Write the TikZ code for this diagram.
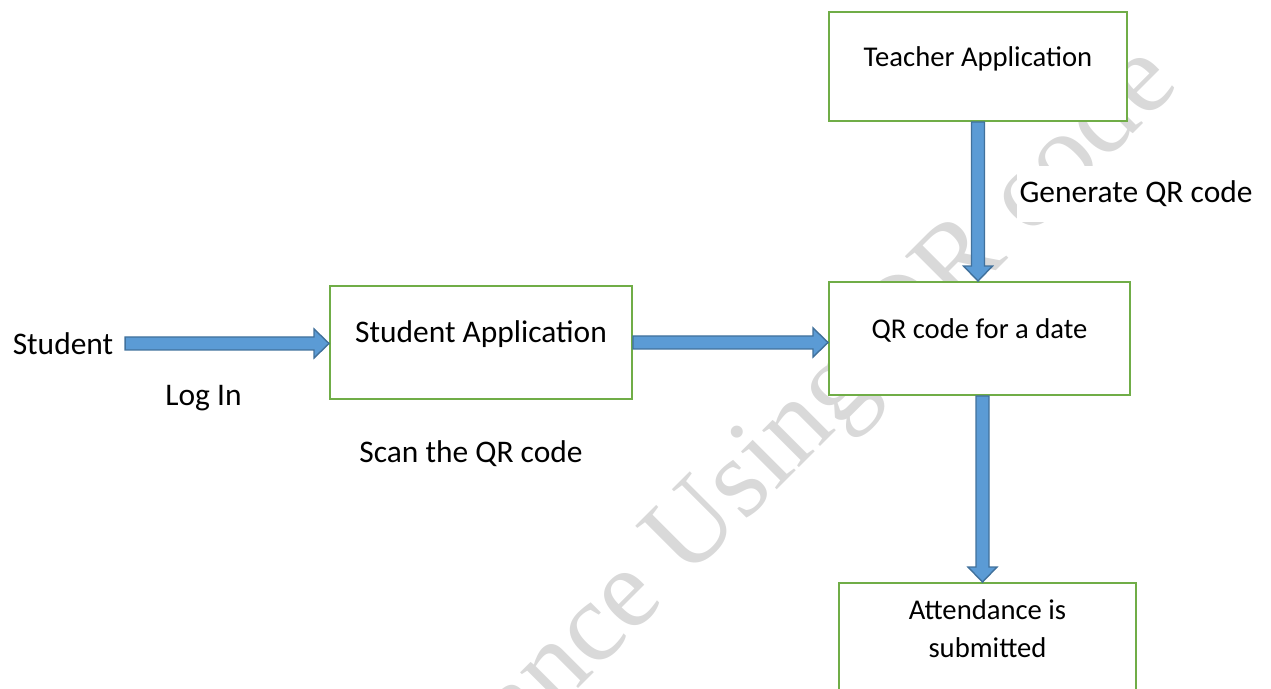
\documentclass[tikz,border=0pt]{standalone}
\usepackage{fontspec}
\setmainfont{Carlito}
\newfontfamily\markfont{Liberation Serif}
\usepackage{tikz}
\usetikzlibrary{calc, positioning}

\definecolor{boxgreen}{HTML}{70AD47}
\definecolor{arrowblue}{HTML}{5B9BD5}
\definecolor{arrowedge}{HTML}{41719C}
\definecolor{markgray}{HTML}{D9D9D9}

\newcommand{\shaftw}{0.13cm}
\newcommand{\headw}{0.29cm}
\newcommand{\headl}{0.30cm}

\tikzset{
  box/.style={draw=boxgreen, fill=white, line width=1.1pt,
    text height=0.5cm, text depth=0.5cm, align=center},
  smalltext/.style={font=\fontsize{16.3}{21.5}\selectfont},
  lbl/.style={fill=white, inner xsep=0.05cm, inner ysep=0.3cm},
  harrow/.style={draw=arrowedge, fill=arrowblue, line width=0.8pt,
    to path={let \p1=(\tikztostart), \p2=(\tikztotarget) in
      (\x1,\y1+\shaftw) -- (\x2-\headl,\y1+\shaftw) -- (\x2-\headl,\y1+\headw)
      -- (\x2,\y1) -- (\x2-\headl,\y1-\headw) -- (\x2-\headl,\y1-\shaftw)
      -- (\x1,\y1-\shaftw) -- cycle}},
  varrow/.style={draw=arrowedge, fill=arrowblue, line width=0.8pt,
    to path={let \p1=(\tikztostart), \p2=(\tikztotarget) in
      (\x1+\shaftw,\y1) -- (\x1+\shaftw,\y2+\headl) -- (\x1+\headw,\y2+\headl)
      -- (\x1,\y2) -- (\x1-\headw,\y2+\headl) -- (\x1-\shaftw,\y2+\headl)
      -- (\x1-\shaftw,\y1) -- cycle}}
}

\begin{document}
\begin{tikzpicture}[font=\fontsize{17.9}{21.5}\selectfont]

\useasboundingbox (0,0) rectangle (25.42,-13.78);
\clip (0,0) rectangle (25.42,-13.78);

% watermark
\node[markgray, rotate=45, anchor=base,
    font=\markfont\fontsize{64.5}{64.5}\selectfont
] (mark) at (14.82,-10.52) {Attendance Using QR code};

\node[box, smalltext,
    minimum width=5.96cm,
    minimum height=2.18cm
] (teacher) at (19.56,-1.33) {Teacher Application};

\node[box, smalltext,
    minimum width=6.02cm,
    minimum height=2.26cm
] (qr) at (19.59,-6.77) {QR code for a date};

\node[box,
    minimum width=6.04cm,
    minimum height=2.26cm
] (studapp) at (9.62,-6.85) {Student Application};

\node[box,
    minimum width=5.94cm,
    minimum height=2.26cm
] (att) at (19.75,-12.79) {};
\node[smalltext, inner sep=0pt, align=center] (atttext) at (19.75,-12.58) {Attendance is\\submitted};

\node[lbl] (student) at (1.26,-6.87) {Student};
\node[lbl] (login) at (4.07,-7.96) {Log In};
\node[lbl] (scan) at (9.42,-9.08) {Scan the QR code};
\node[lbl] (generate) at (22.72,-3.88) {Generate QR code};

\draw[harrow] ([xshift=0.18cm]student.east) to (student.east -| studapp.west);
\draw[harrow] (studapp.east) to (studapp.east -| qr.west);
\draw[varrow] (teacher.south) to (qr.north);
\draw[varrow] ([xshift=0.06cm]qr.south) to ([xshift=0.06cm]qr.south |- att.north);

\end{tikzpicture}
\end{document}
